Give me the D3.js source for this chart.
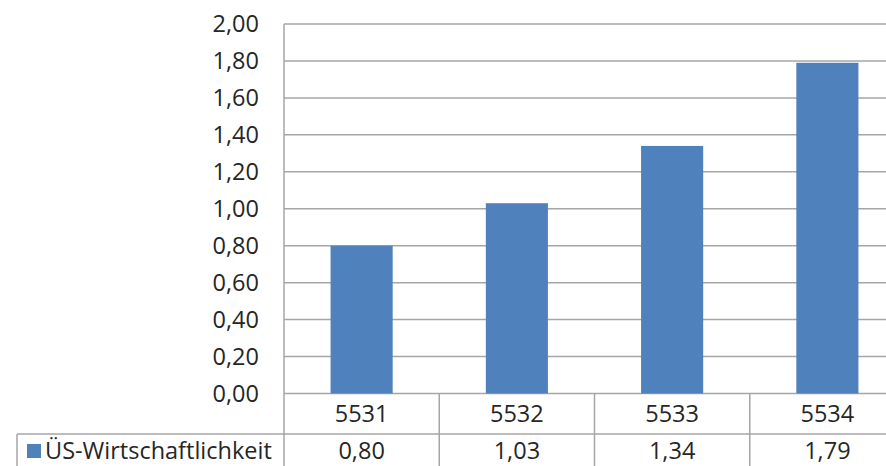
<!DOCTYPE html>
<html>
<head>
<meta charset="utf-8">
<script src="https://cdn.jsdelivr.net/npm/d3@7/dist/d3.min.js"></script>
<style>
  html, body { margin: 0; padding: 0; background: #fff; }
  svg { display: block; }
  text { font-family: "Open Sans", sans-serif; fill: #262626; }
</style>
</head>
<body>
<div id="chart"></div>
<script>
// Chart data
const categories = ["5531", "5532", "5533", "5534"];
const seriesName = "ÜS-Wirtschaftlichkeit";
const seriesValues = [0.80, 1.03, 1.34, 1.79];
const yTicks = [0, 0.2, 0.4, 0.6, 0.8, 1.0, 1.2, 1.4, 1.6, 1.8, 2.0];

const W = 886, H = 466;
const plot = { left: 284, right: 905, top: 24, bottom: 393.5 };
const rowH = 40.5;          // height of the category row in the data table
const legendLeft = 17;
const gridColor = "#a6a6a6";
const barColor = "#4f81bd";
const fontSize = 23.5;
const fontFamily = "'Open Sans', sans-serif";

const fmt = v => d3.format(".2f")(v).replace(".", ",");

const svg = d3.select("#chart").append("svg")
  .attr("width", W).attr("height", H);

const x = d3.scaleBand().domain(categories)
  .range([plot.left, plot.right]).paddingInner(0).paddingOuter(0);
const y = d3.scaleLinear().domain([0, 2]).range([plot.bottom, plot.top]);

// Horizontal gridlines
svg.append("g").selectAll("line").data(yTicks).join("line")
  .attr("x1", plot.left).attr("x2", plot.right)
  .attr("y1", d => y(d)).attr("y2", d => y(d))
  .attr("stroke", gridColor).attr("stroke-width", 1.5);

// Y axis labels
const yAxis = d3.axisLeft(y).tickValues(yTicks).tickFormat(fmt).tickSize(0).tickPadding(25);
const gy = svg.append("g").attr("transform", `translate(${plot.left},0)`).call(yAxis)
  .attr("font-family", fontFamily).attr("font-size", fontSize);
gy.select(".domain").remove();
gy.selectAll("text").attr("fill", "#262626");

// Bars
const barW = x.bandwidth() * 0.4;
svg.append("g").selectAll("rect").data(seriesValues).join("rect")
  .attr("x", (d, i) => x(categories[i]) + (x.bandwidth() - barW) / 2)
  .attr("width", barW)
  .attr("y", d => y(d))
  .attr("height", d => y(0) - y(d))
  .attr("fill", barColor);

// Data table grid
const tableBottom = H + 5;
const rowSplit = plot.bottom + rowH;
const grid = svg.append("g").attr("stroke", gridColor).attr("stroke-width", 1.5);
// plot left edge continuing through the table
grid.append("line").attr("x1", plot.left).attr("x2", plot.left)
  .attr("y1", plot.top).attr("y2", tableBottom);
// category dividers
grid.selectAll("line.div").data(categories).join("line")
  .attr("class", "div")
  .attr("x1", d => x(d) + x.bandwidth())
  .attr("x2", d => x(d) + x.bandwidth())
  .attr("y1", plot.bottom).attr("y2", tableBottom);
// row separator including legend cell
grid.append("line").attr("x1", legendLeft).attr("x2", plot.right)
  .attr("y1", rowSplit).attr("y2", rowSplit);
grid.append("line").attr("x1", legendLeft).attr("x2", legendLeft)
  .attr("y1", rowSplit).attr("y2", tableBottom);

const labels = svg.append("g").attr("font-family", fontFamily).attr("font-size", fontSize);

// Category labels
labels.append("g").selectAll("text").data(categories).join("text")
  .attr("x", d => x(d) + x.bandwidth() / 2)
  .attr("y", plot.bottom + rowH / 2)
  .attr("dy", "0.35em")
  .attr("text-anchor", "middle")
  .text(d => d);

// Value labels
const valueY = rowSplit + 17;
labels.append("g").selectAll("text").data(seriesValues).join("text")
  .attr("x", (d, i) => x(categories[i]) + x.bandwidth() / 2)
  .attr("y", valueY)
  .attr("dy", "0.35em")
  .attr("text-anchor", "middle")
  .text(d => fmt(d));

// Legend key and series name
svg.append("rect").attr("x", 27).attr("y", valueY - 7)
  .attr("width", 14).attr("height", 14).attr("fill", barColor);
labels.append("text").attr("x", 45).attr("y", valueY).attr("dy", "0.35em")
  .text(seriesName);
</script>
</body>
</html>
